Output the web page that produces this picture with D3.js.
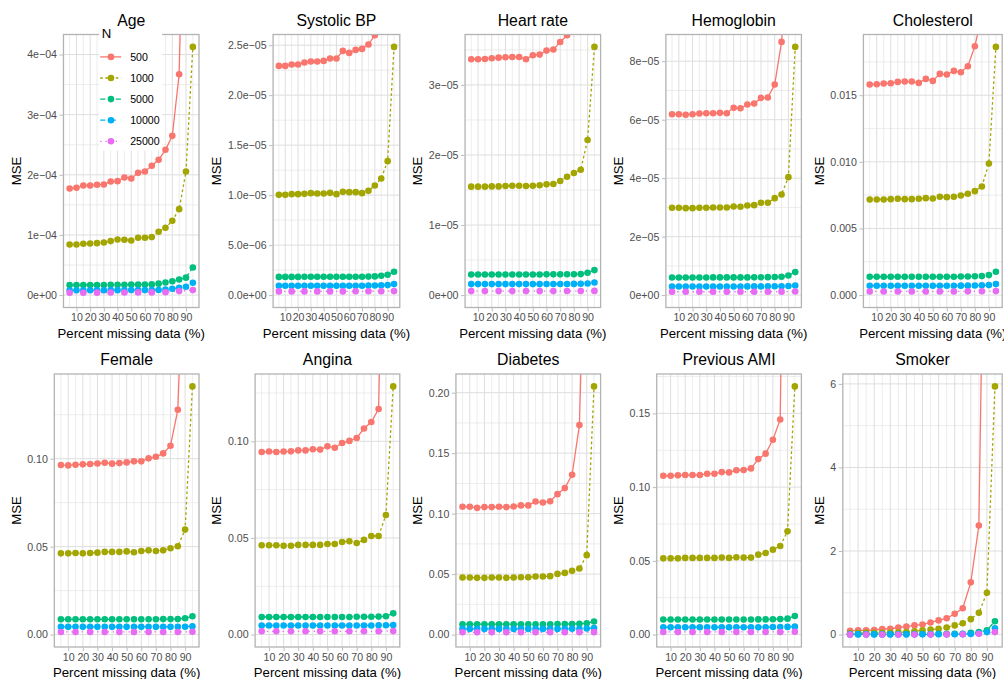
<!DOCTYPE html>
<html><head><meta charset="utf-8">
<script src="https://cdn.jsdelivr.net/npm/d3@7"></script>
<style>
body{margin:0;background:#fff}
svg{display:block}
text{font-family:"Liberation Sans",Arial,Helvetica,sans-serif}
</style>
</head><body><svg id="chart" width="1004" height="679"></svg>
<script>
const panelTitles = ["Age","Systolic BP","Heart rate","Hemoglobin","Cholesterol","Female","Angina","Diabetes","Previous AMI","Smoker"];
const pctMissing = [5,10,15,20,25,30,35,40,45,50,55,60,65,70,75,80,85,90,95];
const pct25000 = [5,15,25,35,45,55,65,75,85,95];
const sampleSizes = ["500","1000","5000","10000","25000"];
const xTickValues = [10,20,30,40,50,60,70,80,90];
const xTickLabels = ["10","20","30","40","50","60","70","80","90"];

const mse500 = [
 [1.773e-4,1.784e-4,1.823e-4,1.823e-4,1.834e-4,1.839e-4,1.889e-4,1.895e-4,1.956e-4,1.939e-4,2.033e-4,2.055e-4,2.150e-4,2.249e-4,2.416e-4,2.648e-4,3.673e-4,8.5e-4,20e-4],
 [2.293e-5,2.293e-5,2.307e-5,2.307e-5,2.327e-5,2.337e-5,2.337e-5,2.343e-5,2.367e-5,2.367e-5,2.443e-5,2.423e-5,2.453e-5,2.463e-5,2.507e-5,2.600e-5,2.75e-5,3.2e-5,4.5e-5],
 [3.367e-5,3.367e-5,3.371e-5,3.381e-5,3.390e-5,3.395e-5,3.400e-5,3.400e-5,3.367e-5,3.424e-5,3.433e-5,3.490e-5,3.505e-5,3.614e-5,3.710e-5,3.85e-5,4.1e-5,4.6e-5,6.0e-5],
 [6.188e-5,6.188e-5,6.165e-5,6.188e-5,6.211e-5,6.222e-5,6.222e-5,6.234e-5,6.222e-5,6.405e-5,6.393e-5,6.519e-5,6.553e-5,6.746e-5,6.758e-5,7.202e-5,8.661e-5,12e-5,20e-5],
 [0.0158,0.015825,0.015875,0.0159,0.016,0.016025,0.016025,0.015925,0.016225,0.016075,0.0166,0.01655,0.016825,0.016725,0.017175,0.018675,0.021,0.030,0.050],
 [0.0964,0.0962,0.0966,0.0968,0.0970,0.0973,0.0977,0.0972,0.0975,0.0979,0.0985,0.0985,0.1002,0.1011,0.1030,0.1074,0.1278,0.24,0.5],
 [0.0945,0.0947,0.0945,0.0947,0.0948,0.0953,0.0953,0.0959,0.0957,0.0974,0.0967,0.0991,0.1002,0.1017,0.1066,0.1100,0.1167,0.3,0.6],
 [0.1057,0.1057,0.1048,0.1054,0.1054,0.1057,0.1054,0.1059,0.1068,0.1068,0.1101,0.1092,0.1103,0.1161,0.1211,0.1321,0.1732,0.4,0.8],
 [0.1077,0.1077,0.1080,0.1082,0.1082,0.1082,0.1091,0.1091,0.1102,0.1100,0.1114,0.1116,0.1127,0.1190,0.1227,0.1321,0.1459,0.5,1.0],
 [0.09,0.10,0.10,0.11,0.13,0.14,0.17,0.19,0.22,0.24,0.29,0.34,0.39,0.50,0.63,1.25,2.61,15,30]
];
const mse1000 = [
 [0.842e-4,0.842e-4,0.853e-4,0.859e-4,0.864e-4,0.875e-4,0.898e-4,0.925e-4,0.920e-4,0.909e-4,0.953e-4,0.953e-4,0.964e-4,1.053e-4,1.119e-4,1.235e-4,1.429e-4,2.055e-4,4.127e-4],
 [1.003e-5,1.003e-5,1.010e-5,1.010e-5,1.013e-5,1.020e-5,1.017e-5,1.017e-5,1.023e-5,1.010e-5,1.033e-5,1.030e-5,1.030e-5,1.020e-5,1.043e-5,1.097e-5,1.167e-5,1.340e-5,2.483e-5],
 [1.548e-5,1.548e-5,1.548e-5,1.552e-5,1.552e-5,1.557e-5,1.562e-5,1.562e-5,1.557e-5,1.562e-5,1.567e-5,1.581e-5,1.586e-5,1.629e-5,1.690e-5,1.743e-5,1.790e-5,2.214e-5,3.543e-5],
 [2.986e-5,2.986e-5,2.974e-5,2.974e-5,2.986e-5,2.986e-5,2.997e-5,2.997e-5,2.997e-5,3.031e-5,3.020e-5,3.066e-5,3.077e-5,3.157e-5,3.157e-5,3.316e-5,3.442e-5,4.034e-5,8.490e-5],
 [0.007175,0.007175,0.007175,0.0072,0.007225,0.0072,0.0072,0.007225,0.007275,0.00725,0.007375,0.00735,0.007375,0.007475,0.0076,0.0078,0.00815,0.009875,0.018625],
 [0.0462,0.0462,0.0464,0.0462,0.0464,0.0466,0.0470,0.0470,0.0470,0.0473,0.0468,0.0475,0.0479,0.0475,0.0479,0.0491,0.0502,0.0597,0.1411],
 [0.0462,0.0462,0.0462,0.0460,0.0460,0.0464,0.0464,0.0464,0.0464,0.0469,0.0469,0.0479,0.0483,0.0474,0.0490,0.0510,0.0510,0.0619,0.1284],
 [0.0472,0.0472,0.0469,0.0469,0.0472,0.0472,0.0469,0.0472,0.0474,0.0474,0.0480,0.0480,0.0483,0.0502,0.0510,0.0527,0.0546,0.0657,0.2052],
 [0.0517,0.0517,0.0517,0.0520,0.0520,0.0520,0.0520,0.0520,0.0522,0.0520,0.0524,0.0522,0.0522,0.0542,0.0553,0.0576,0.0601,0.0700,0.1683],
 [0.03,0.035,0.04,0.04,0.045,0.05,0.055,0.06,0.08,0.10,0.12,0.14,0.17,0.22,0.27,0.37,0.52,1.0,5.94]
];
const mse5000 = [
 [0.166e-4,0.166e-4,0.167e-4,0.167e-4,0.168e-4,0.168e-4,0.170e-4,0.171e-4,0.172e-4,0.175e-4,0.176e-4,0.177e-4,0.178e-4,0.19e-4,0.21e-4,0.23e-4,0.26e-4,0.29e-4,0.46e-4],
 [0.182e-5,0.182e-5,0.182e-5,0.182e-5,0.183e-5,0.183e-5,0.183e-5,0.183e-5,0.183e-5,0.183e-5,0.183e-5,0.184e-5,0.184e-5,0.184e-5,0.185e-5,0.187e-5,0.193e-5,0.203e-5,0.233e-5],
 [0.294e-5,0.294e-5,0.294e-5,0.294e-5,0.295e-5,0.295e-5,0.295e-5,0.295e-5,0.295e-5,0.295e-5,0.295e-5,0.296e-5,0.296e-5,0.296e-5,0.297e-5,0.298e-5,0.300e-5,0.320e-5,0.357e-5],
 [0.604e-5,0.604e-5,0.604e-5,0.604e-5,0.604e-5,0.604e-5,0.605e-5,0.605e-5,0.605e-5,0.605e-5,0.606e-5,0.606e-5,0.607e-5,0.610e-5,0.613e-5,0.618e-5,0.627e-5,0.672e-5,0.786e-5],
 [0.001375,0.001375,0.001375,0.001375,0.001375,0.001375,0.001375,0.001375,0.001375,0.00138,0.00138,0.00138,0.00138,0.00139,0.0014,0.00141,0.001425,0.0015,0.00175],
 [0.0087,0.0087,0.0087,0.0087,0.0087,0.0087,0.0087,0.0087,0.0087,0.0087,0.0087,0.0087,0.0087,0.0087,0.0088,0.0088,0.0088,0.0093,0.0104],
 [0.0091,0.0091,0.0091,0.0091,0.0091,0.0091,0.0091,0.0091,0.0091,0.0091,0.0091,0.0091,0.0091,0.0092,0.0092,0.0092,0.0093,0.0095,0.0110],
 [0.0086,0.0086,0.0086,0.0086,0.0086,0.0086,0.0086,0.0086,0.0086,0.0086,0.0086,0.0086,0.0086,0.0087,0.0087,0.0088,0.0089,0.0094,0.0108],
 [0.0102,0.0102,0.0102,0.0102,0.0102,0.0102,0.0102,0.0102,0.0102,0.0102,0.0102,0.0102,0.0102,0.0103,0.0103,0.0104,0.0105,0.0108,0.0126],
 [0.01,0.01,0.01,0.01,0.01,0.01,0.012,0.012,0.013,0.014,0.015,0.016,0.017,0.018,0.02,0.04,0.06,0.1,0.32]
];
const mse10000 = [
 [0.080e-4,0.080e-4,0.080e-4,0.081e-4,0.081e-4,0.081e-4,0.082e-4,0.082e-4,0.082e-4,0.083e-4,0.083e-4,0.083e-4,0.083e-4,0.085e-4,0.094e-4,0.105e-4,0.121e-4,0.138e-4,0.204e-4],
 [0.093e-5,0.093e-5,0.093e-5,0.093e-5,0.093e-5,0.093e-5,0.093e-5,0.093e-5,0.093e-5,0.093e-5,0.093e-5,0.094e-5,0.094e-5,0.094e-5,0.095e-5,0.096e-5,0.098e-5,0.100e-5,0.110e-5],
 [0.157e-5,0.157e-5,0.157e-5,0.157e-5,0.157e-5,0.157e-5,0.157e-5,0.157e-5,0.157e-5,0.157e-5,0.157e-5,0.158e-5,0.158e-5,0.158e-5,0.159e-5,0.160e-5,0.161e-5,0.165e-5,0.180e-5],
 [0.296e-5,0.296e-5,0.296e-5,0.296e-5,0.296e-5,0.296e-5,0.296e-5,0.296e-5,0.296e-5,0.296e-5,0.296e-5,0.297e-5,0.297e-5,0.298e-5,0.299e-5,0.300e-5,0.302e-5,0.310e-5,0.330e-5],
 [0.0007,0.0007,0.0007,0.0007,0.0007,0.0007,0.0007,0.0007,0.0007,0.0007,0.0007,0.0007,0.0007,0.00071,0.00071,0.00072,0.00073,0.00075,0.000825],
 [0.0044,0.0044,0.0044,0.0044,0.0044,0.0044,0.0044,0.0044,0.0044,0.0044,0.0044,0.0044,0.0044,0.0044,0.0044,0.0044,0.0045,0.0045,0.0047],
 [0.0047,0.0047,0.0047,0.0047,0.0047,0.0047,0.0047,0.0047,0.0047,0.0047,0.0047,0.0047,0.0047,0.0047,0.0047,0.0047,0.0048,0.0048,0.0050],
 [0.0047,0.0047,0.0047,0.0047,0.0047,0.0047,0.0047,0.0047,0.0047,0.0047,0.0047,0.0047,0.0047,0.0047,0.0047,0.0048,0.0048,0.0050,0.0055],
 [0.0050,0.0050,0.0050,0.0050,0.0050,0.0050,0.0050,0.0050,0.0050,0.0050,0.0050,0.0050,0.0050,0.0050,0.0050,0.0051,0.0051,0.0052,0.0054],
 [0.005,0.005,0.005,0.005,0.005,0.005,0.005,0.005,0.006,0.006,0.006,0.007,0.007,0.008,0.01,0.015,0.03,0.06,0.15]
];
const mse25000 = [
 [0.040e-4,0.040e-4,0.041e-4,0.042e-4,0.043e-4,0.045e-4,0.045e-4,0.046e-4,0.066e-4,0.083e-4],
 [0.037e-5,0.037e-5,0.037e-5,0.037e-5,0.037e-5,0.037e-5,0.038e-5,0.038e-5,0.039e-5,0.040e-5],
 [0.057e-5,0.057e-5,0.057e-5,0.057e-5,0.057e-5,0.057e-5,0.057e-5,0.058e-5,0.058e-5,0.060e-5],
 [0.114e-5,0.114e-5,0.114e-5,0.114e-5,0.114e-5,0.114e-5,0.115e-5,0.115e-5,0.117e-5,0.125e-5],
 [0.000275,0.000275,0.000275,0.000275,0.000275,0.000275,0.000275,0.00028,0.00029,0.0003],
 [0.0015,0.0015,0.0015,0.0015,0.0015,0.0015,0.0015,0.0015,0.0015,0.0016],
 [0.0017,0.0017,0.0017,0.0017,0.0017,0.0017,0.0017,0.0017,0.0017,0.0018],
 [0.0019,0.0019,0.0019,0.0019,0.0019,0.0019,0.0019,0.0019,0.0019,0.0020],
 [0.0018,0.0018,0.0018,0.0018,0.0018,0.0018,0.0018,0.0018,0.0018,0.0019],
 [0.0,0.0,0.0,0.0,0.002,0.003,0.004,0.008,0.02,0.06]
];

const yTickValues = [
 [0,1e-4,2e-4,3e-4,4e-4],
 [0,5e-6,1e-5,1.5e-5,2e-5,2.5e-5],
 [0,1e-5,2e-5,3e-5],
 [0,2e-5,4e-5,6e-5,8e-5],
 [0,0.005,0.010,0.015],
 [0,0.05,0.10],
 [0,0.05,0.10],
 [0,0.05,0.10,0.15,0.20],
 [0,0.05,0.10,0.15],
 [0,2,4,6]
];
const yTickLabels = [
 ["0e+00","1e\u221204","2e\u221204","3e\u221204","4e\u221204"],
 ["0.0e+00","5.0e\u221206","1.0e\u221205","1.5e\u221205","2.0e\u221205","2.5e\u221205"],
 ["0e+00","1e\u221205","2e\u221205","3e\u221205"],
 ["0e+00","2e\u221205","4e\u221205","6e\u221205","8e\u221205"],
 ["0.000","0.005","0.010","0.015"],
 ["0.00","0.05","0.10"],
 ["0.00","0.05","0.10"],
 ["0.00","0.05","0.10","0.15","0.20"],
 ["0.00","0.05","0.10","0.15"],
 ["0","2","4","6"]
];
const xMinorValues = [5,15,25,35,45,55,65,75,85,95];

const seriesColors = ["#F8766D","#A3A500","#00BF7D","#00B0F6","#E76BF3"];
const seriesDash = [null,"2.6,2.6","5.2,2.6","5.2,5.2","1.3,3.9"];

// ---------- layout ----------
const W = 1004, H = 679;
const cellW = W/5, cellH = H/2;
const svg = d3.select("#chart");
svg.append("rect").attr("width",W).attr("height",H).attr("fill","#fff");
const tickFont = 10.6, titleFont = 15.8, axisFont = 13.2;
const gridCol = "#DEDEDE", borderCol = "#B3B3B3", tickTextCol = "#4D4D4D";

function textWidth(str, size){
  const t = svg.append("text").attr("font-size",size).text(str);
  const w = t.node().getComputedTextLength();
  t.remove();
  return w;
}

const allSeries = [mse500, mse1000, mse5000, mse10000, mse25000];
const titleLayer = [];

panelTitles.forEach((title, i) => {
  const r = Math.floor(i/5), c = i % 5;
  const cx = c*cellW, cy = r*cellH;
  const labW = d3.max(yTickLabels[i], s => textWidth(s, tickFont));
  const left = cx + 33.7 + labW;
  const right = cx + cellW - 1.8;
  const top = cy + 34.5;
  const bottom = cy + 307.5;

  const m = d3.max(mse1000[i]);
  const x = d3.scaleLinear().domain([0.5, 99.5]).range([left, right]);
  const y = d3.scaleLinear().domain([-0.05*m, 1.05*m]).range([bottom, top]);

  const g = svg.append("g");
  g.append("rect").attr("x",left).attr("y",top).attr("width",right-left).attr("height",bottom-top).attr("fill","#fff");

  // minor grid
  const t = yTickValues[i];
  const step = t[1]-t[0];
  const yMinor = [];
  for (let k=-1; k<t.length+1; k++){
    const v = t[0] + (k+0.5)*step;
    if (v > y.domain()[0] && v < y.domain()[1]) yMinor.push(v);
  }
  g.selectAll(null).data(yMinor).join("line")
    .attr("x1",left).attr("x2",right).attr("y1",d=>y(d)).attr("y2",d=>y(d))
    .attr("stroke",gridCol).attr("stroke-width",0.55);
  g.selectAll(null).data(xMinorValues).join("line")
    .attr("y1",top).attr("y2",bottom).attr("x1",d=>x(d)).attr("x2",d=>x(d))
    .attr("stroke",gridCol).attr("stroke-width",0.55);
  // major grid
  g.selectAll(null).data(t).join("line")
    .attr("x1",left).attr("x2",right).attr("y1",d=>y(d)).attr("y2",d=>y(d))
    .attr("stroke",gridCol).attr("stroke-width",1);
  g.selectAll(null).data(xTickValues).join("line")
    .attr("y1",top).attr("y2",bottom).attr("x1",d=>x(d)).attr("x2",d=>x(d))
    .attr("stroke",gridCol).attr("stroke-width",1);

  // data
  const clipId = "clip"+i;
  svg.append("clipPath").attr("id",clipId).append("rect")
    .attr("x",left).attr("y",top).attr("width",right-left).attr("height",bottom-top);
  const dg = g.append("g").attr("clip-path",`url(#${clipId})`);
  const line = d3.line().x(d=>x(d[0])).y(d=>y(d[1]));
  const seriesPts = allSeries.map((s, k) => {
    const xs = k === 4 ? pct25000 : pctMissing;
    return xs.map((xv, j) => [xv, s[i][j]]);
  });
  seriesPts.forEach((pts, k) => {
    dg.append("path").attr("d", line(pts)).attr("fill","none")
      .attr("stroke", seriesColors[k]).attr("stroke-width",1.3)
      .attr("stroke-dasharray", seriesDash[k]);
  });
  seriesPts.forEach((pts, k) => {
    dg.selectAll(null).data(pts).join("circle")
      .attr("cx",d=>x(d[0])).attr("cy",d=>y(d[1])).attr("r",3.3)
      .attr("fill",seriesColors[k]);
  });

  // border
  g.append("rect").attr("x",left).attr("y",top).attr("width",right-left).attr("height",bottom-top)
    .attr("fill","none").attr("stroke",borderCol).attr("stroke-width",1.3);

  // y axis
  const ya = d3.axisLeft(y).tickValues(t).tickFormat((d,j)=>yTickLabels[i][j]).tickSizeOuter(0).tickSize(3.3).tickPadding(2.6);
  const yg = g.append("g").attr("transform",`translate(${left-0.65},0)`).call(ya);
  yg.select(".domain").remove();
  yg.selectAll("line").attr("stroke",borderCol).attr("stroke-width",0.9);
  yg.selectAll("text").attr("font-size",tickFont).attr("fill",tickTextCol).attr("font-family",null);

  // x axis
  const xa = d3.axisBottom(x).tickValues(xTickValues).tickFormat((d,j)=>xTickLabels[j]).tickSizeOuter(0).tickSize(3.3).tickPadding(2.4);
  const xg = g.append("g").attr("transform",`translate(0,${bottom+0.65})`).call(xa);
  xg.select(".domain").remove();
  xg.selectAll("line").attr("stroke",borderCol).attr("stroke-width",0.9);
  xg.selectAll("text").attr("font-size",tickFont).attr("fill",tickTextCol).attr("font-family",null);

  // axis titles
  g.append("text").attr("x",(left+right)/2).attr("y",bottom+25.6).attr("dy","0.35em")
    .attr("text-anchor","middle").attr("font-size",axisFont).attr("fill","#000").text("Percent missing data (%)");
  g.append("text").attr("transform",`translate(${cx+16},${(top+bottom)/2}) rotate(-90)`).attr("dy","0.35em")
    .attr("text-anchor","middle").attr("font-size",axisFont).attr("fill","#000").text("MSE");

  // legend (first panel only)
  if (i === 0){
    const lx = left + 35.7, ly = top;
    const lg = svg.append("g");
    lg.append("rect").attr("x",lx).attr("y",ly-7).attr("width",63).attr("height",123).attr("fill","#fff");
    lg.append("text").attr("x",lx+2.5).attr("y",ly-1).attr("dy","0.35em").attr("font-size",axisFont).attr("fill","#000").text("N");
    sampleSizes.forEach((n,k) => {
      const ry = ly + 22.4 + k*21.1;
      lg.append("line").attr("x1",lx+1).attr("x2",lx+22).attr("y1",ry).attr("y2",ry)
        .attr("stroke",seriesColors[k]).attr("stroke-width",1.3).attr("stroke-dasharray",seriesDash[k]);
      lg.append("circle").attr("cx",lx+11.8).attr("cy",ry).attr("r",3.3).attr("fill",seriesColors[k]);
      lg.append("text").attr("x",lx+31).attr("y",ry).attr("dy","0.35em").attr("font-size",tickFont).attr("fill","#000").text(n);
    });
  }

  titleLayer.push({title, x:(left+right)/2, y:cy+20});
});

// plot titles drawn last so nothing covers them
svg.append("g").selectAll("text").data(titleLayer).join("text")
  .attr("x",d=>d.x).attr("y",d=>d.y).attr("dy","0.35em")
  .attr("text-anchor","middle").attr("font-size",titleFont).attr("fill","#000")
  .text(d=>d.title);
</script>
</body></html>
